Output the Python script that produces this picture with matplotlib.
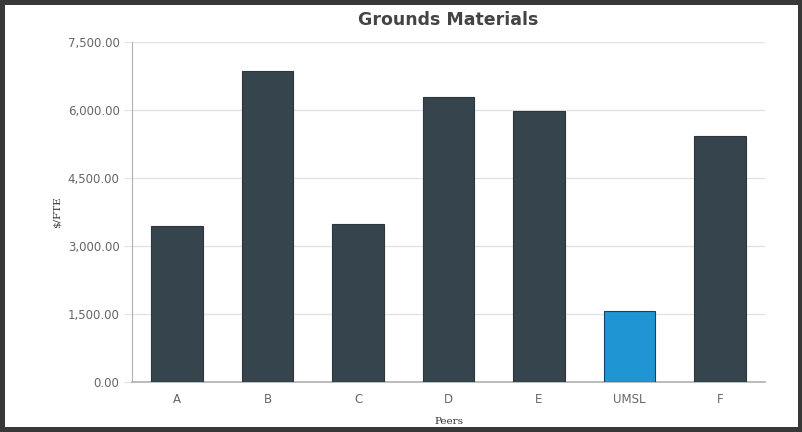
import matplotlib.pyplot as plt
from matplotlib.ticker import FuncFormatter

# data
peers = ["A", "B", "C", "D", "E", "UMSL", "F"]
values = [3440, 6860, 3485, 6290, 5980, 1565, 5425]
bar_colors = ["#36444d", "#36444d", "#36444d", "#36444d", "#36444d", "#1f96d3", "#36444d"]
edge_colors = ["#2a353c", "#2a353c", "#2a353c", "#2a353c", "#2a353c", "#14406a", "#2a353c"]
y_ticks = [0, 1500, 3000, 4500, 6000, 7500]

fig = plt.figure(figsize=(8.03, 4.32), dpi=100, facecolor="white",
                 edgecolor="#383838", linewidth=6)
ax = fig.add_axes([0.1644, 0.1157, 0.7883, 0.7871])

ax.bar(peers, values, width=0.57, color=bar_colors, edgecolor=edge_colors,
       linewidth=0.8, zorder=3)

ax.set_xlim(-0.5, len(peers) - 0.5)
ax.set_ylim(0, 7500)
ax.set_yticks(y_ticks)
ax.yaxis.set_major_formatter(FuncFormatter(lambda v, p: f"{v:,.2f}"))
ax.grid(axis="y", color="#e3e3e3", linewidth=1, zorder=0)

for side in ["top", "right"]:
    ax.spines[side].set_visible(False)
ax.spines["left"].set_color("#b0b0b0")
ax.spines["bottom"].set_color("#b0b0b0")
ax.spines["bottom"].set_linewidth(1.2)

ax.tick_params(axis="y", colors="#e3e3e3", length=6, labelcolor="#666666",
               labelsize=8.5, pad=3)
ax.tick_params(axis="x", length=0, labelcolor="#666666", labelsize=8.5, pad=8)

ax.set_ylabel("$/FTE", family="serif", fontsize=7.5, color="#333333", labelpad=4)
ax.set_xlabel("Peers", family="serif", fontsize=7.5, color="#333333", labelpad=8)

ax.set_title("Grounds Materials", fontsize=12.5, fontweight="bold",
             color="#444444", pad=12)

fig.savefig("out.png", dpi=100, facecolor=fig.get_facecolor(),
            edgecolor=fig.get_edgecolor())
